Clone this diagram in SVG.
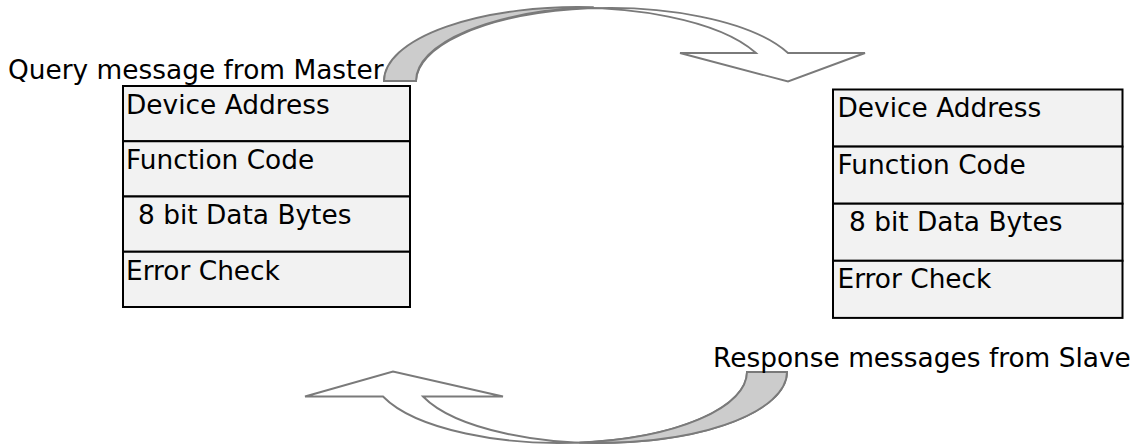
<svg xmlns="http://www.w3.org/2000/svg" width="1139" height="445" viewBox="0 0 1139 445">
<style>
.lbl{font-family:"DejaVu Sans",Verdana,sans-serif;font-size:26.4px;fill:#000}
.cell{fill:#f2f2f2;stroke:#000;stroke-width:2}
.band{fill:#fff;stroke:#7a7a7a;stroke-width:1.9;stroke-linejoin:miter}
.under{fill:#cccccc;stroke:#7a7a7a;stroke-width:1.9}
</style>
<rect width="1139" height="445" fill="#fff"/>
<g id="connectors">
<g id="query-arrow">
<path class="band" d="M384,81 A193.75,74 0 0 1 756,53 L680,53 L788,81.5 L865,53 L788,53 A193.75,74 0 0 0 416,81 Z"/>
<path class="under" d="M384,81 A193.75,74 0 0 1 593.75,7.3 A193.75,74 0 0 0 416,81 Z"/>
</g>
<g id="response-arrow">
<path class="band" d="M787,372 A187.8,71 0 0 1 423,396.5 L503,396.5 L393,371.5 L305,396.5 L383,396.5 A187.8,71 0 0 0 747,372 Z"/>
<path class="under" d="M787,372 A187.8,71 0 0 1 579.2,442.6 A187.8,71 0 0 0 747,372 Z"/>
</g>
</g>
<text class="lbl" x="8" y="78.5">Query message from Master</text>
<text class="lbl" x="713" y="366.5">Response messages from Slave</text>
<g id="master-frame">
<rect class="cell" x="123" y="86" width="287" height="55.25"/>
<rect class="cell" x="123" y="141.25" width="287" height="55.25"/>
<rect class="cell" x="123" y="196.5" width="287" height="55.25"/>
<rect class="cell" x="123" y="251.75" width="287" height="55.25"/>
<text class="lbl" x="126" y="113.8">Device Address</text>
<text class="lbl" x="126" y="169">Function Code</text>
<text class="lbl" x="138" y="224.3">8 bit Data Bytes</text>
<text class="lbl" x="126" y="279.5">Error Check</text>
</g>
<g id="slave-frame">
<rect class="cell" x="833" y="89.5" width="289.5" height="57.1"/>
<rect class="cell" x="833" y="146.6" width="289.5" height="57.1"/>
<rect class="cell" x="833" y="203.7" width="289.5" height="57.1"/>
<rect class="cell" x="833" y="260.8" width="289.5" height="57.1"/>
<text class="lbl" x="837.5" y="117">Device Address</text>
<text class="lbl" x="837.5" y="174.1">Function Code</text>
<text class="lbl" x="849" y="231.2">8 bit Data Bytes</text>
<text class="lbl" x="837.5" y="288.3">Error Check</text>
</g>
</svg>
